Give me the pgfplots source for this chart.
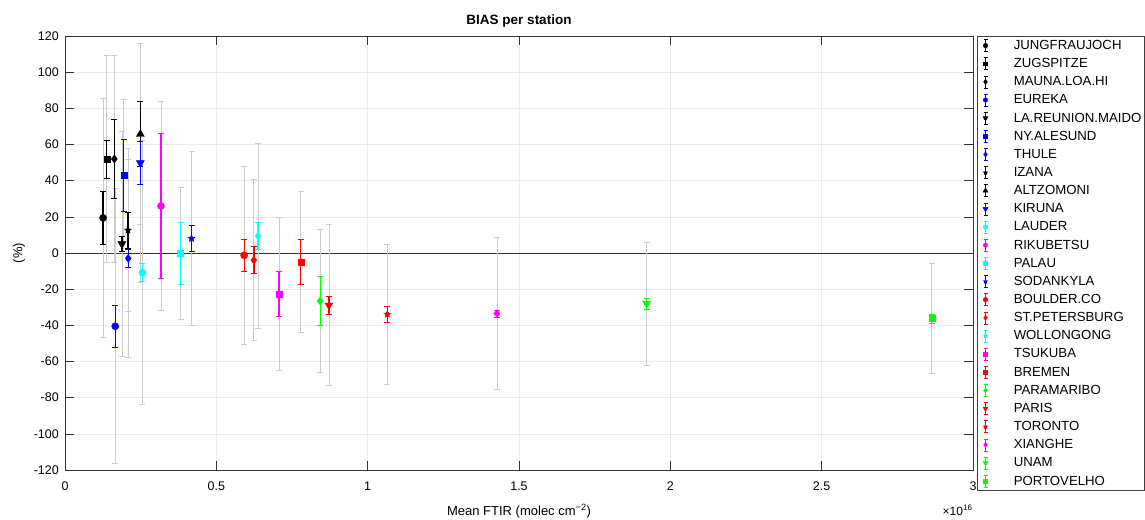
\documentclass[border=0pt]{standalone}
\usepackage{fontspec}
\setmainfont{Liberation Sans}
\usepackage{pgfplots}
\pgfplotsset{compat=1.18}
\usetikzlibrary{plotmarks}

\pgfdeclareplotmark{fstar}{%
  \pgfpathmoveto{\pgfpointpolar{90}{\pgfplotmarksize}}%
  \pgfpathlineto{\pgfpointpolar{126}{0.42\pgfplotmarksize}}%
  \pgfpathlineto{\pgfpointpolar{162}{\pgfplotmarksize}}%
  \pgfpathlineto{\pgfpointpolar{198}{0.42\pgfplotmarksize}}%
  \pgfpathlineto{\pgfpointpolar{234}{\pgfplotmarksize}}%
  \pgfpathlineto{\pgfpointpolar{270}{0.42\pgfplotmarksize}}%
  \pgfpathlineto{\pgfpointpolar{306}{\pgfplotmarksize}}%
  \pgfpathlineto{\pgfpointpolar{342}{0.42\pgfplotmarksize}}%
  \pgfpathlineto{\pgfpointpolar{18}{\pgfplotmarksize}}%
  \pgfpathlineto{\pgfpointpolar{54}{0.42\pgfplotmarksize}}%
  \pgfpathclose\pgfusepathqfillstroke}

\definecolor{outergray}{gray}{0.8}
\definecolor{mcyan}{rgb}{0,1,1}
\definecolor{mgreen}{rgb}{0,1,0}
\definecolor{mmag}{rgb}{1,0,1}

\pgfplotsset{
  st/.style={only marks, color=#1, mark options={fill=#1, draw=#1, solid},
    error bars/y dir=both, error bars/y explicit,
    error bars/error bar style={line width=1.3pt, color=#1},
    error bars/error mark options={rotate=90, color=#1, mark size=3pt, line width=0.8pt}},
}

\begin{document}
\begin{tikzpicture}
\begin{axis}[
  scale only axis, width=908pt, height=434pt,
  xmin=0, xmax=3, ymin=-120, ymax=120,
  xtick={0,0.5,1,1.5,2,2.5,3},
  xticklabels={0,0.5,1,1.5,2,2.5,3},
  ytick={-120,-100,-80,-60,-40,-20,0,20,40,60,80,100,120},
  yticklabels={-120,-100,-80,-60,-40,-20,0,20,40,60,80,100,120},
  tick align=inside, major tick length=9pt,
  grid=major, grid style={color=black!8, line width=0.6pt},
  axis line style={color=black!80, line width=0.6pt},
  tick style={color=black!80, line width=0.6pt},
  ticklabel style={font=\fontsize{12.5}{14}\selectfont},
  xticklabel style={anchor=base, inner sep=0pt, yshift=-20pt},
  yticklabel style={anchor=east, inner sep=0pt, xshift=-6pt},
  title={BIAS per station},
  title style={font=\fontsize{13.5}{16}\selectfont\bfseries, at={([yshift=5pt]rel axis cs:0.5,1)}, anchor=base},
  xlabel={Mean FTIR (molec cm\textsuperscript{−2})},
  xlabel style={font=\fontsize{13}{15}\selectfont, at={([yshift=-45pt]rel axis cs:0.5,0)}, anchor=base},
  ylabel={(\%)},
  ylabel style={font=\fontsize{13}{15}\selectfont, at={([xshift=-46pt]rel axis cs:0,0.5)}, anchor=center, rotate=0},
  legend style={at={(1,1)}, anchor=north west, xshift=4pt, draw=black!75, line width=0.5pt,
    font=\fontsize{13.2}{15}\selectfont, inner xsep=3pt, inner ysep=3pt, row sep=5.55pt, column sep=0pt,
    nodes={inner sep=0pt}},
  legend cell align=left,
  legend image code/.code={
    \draw[#1, mark=none, line width=0.6pt] (0pt,-6pt) -- (0pt,6pt);
    \draw[#1, mark=none, line width=0.6pt] (-2pt,-6pt) -- (2pt,-6pt) (-2pt,6pt) -- (2pt,6pt);
    \draw[#1, every mark/.append style={scale=0.62}] plot coordinates {(0pt,0pt)};
    \path (-5pt,0pt) (28pt,0pt);
  },
]
% zero line
\addplot[forget plot, color=black!80, line width=0.7pt] coordinates {(0,0) (3,0)};
% outer (gray) error bars
\addplot[forget plot, only marks, mark=none, error bars/.cd, y dir=both, y explicit,
  error bar style={line width=0.8pt, color=outergray},
  error mark options={rotate=90, color=outergray, mark size=3pt, line width=0.8pt}] coordinates {
  (0.126,19.4) +- (0,66)
  (0.138,52) +- (0,57)
  (0.163,52) +- (0,57)
  (0.166,-40.5) +- (0,76)
  (0.188,5) +- (0,62)
  (0.194,43) +- (0,42)
  (0.209,-3) +- (0,54.5)
  (0.208,12.6) +- (0,45)
  (0.249,65.7) +- (0,50)
  (0.249,49.8) +- (0,66)
  (0.256,-10.9) +- (0,73)
  (0.317,26) +- (0,58)
  (0.382,-0.3) +- (0,36.5)
  (0.418,8) +- (0,48)
  (0.592,-1.3) +- (0,49)
  (0.624,-4) +- (0,44.5)
  (0.638,9.4) +- (0,51)
  (0.707,-22.8) +- (0,42.3)
  (0.779,-5) +- (0,39)
  (0.843,-26.5) +- (0,39.5)
  (0.872,-28.9) +- (0,44.5)
  (1.065,-33.9) +- (0,38.7)
  (1.427,-33.5) +- (0,42)
  (1.922,-28) +- (0,34)
  (2.864,-36.3) +- (0,30.4)
};
% inner (coloured) error bars and markers
\addplot[st=black, mark=*, mark size=3.6pt] coordinates {(0.126,19.4) +- (0,14.5)};
\addlegendentry{JUNGFRAUJOCH}
\addplot[st=black, mark=square*, mark size=3pt] coordinates {(0.138,52) +- (0,10.5)};
\addlegendentry{ZUGSPITZE}
\addplot[st=black, mark=diamond*, mark size=4pt] coordinates {(0.163,52) +- (0,22)};
\addlegendentry{MAUNA.LOA.HI}
\addplot[st=blue, mark=*, mark size=3.6pt] coordinates {(0.166,-40.5) +- (0,11.5)};
\addlegendentry{EUREKA}
\addplot[st=black, mark=triangle*, mark size=4.6pt, mark options={rotate=180}] coordinates {(0.188,5) +- (0,4)};
\addlegendentry{LA.REUNION.MAIDO}
\addplot[st=blue, mark=square*, mark size=3pt] coordinates {(0.194,43) +- (0,20)};
\addlegendentry{NY.ALESUND}
\addplot[st=blue, mark=diamond*, mark size=4pt] coordinates {(0.209,-3) +- (0,5)};
\addlegendentry{THULE}
\addplot[st=black, mark=fstar, mark size=3.6pt] coordinates {(0.208,12.6) +- (0,10)};
\addlegendentry{IZANA}
\addplot[st=black, mark=triangle*, mark size=4.6pt] coordinates {(0.249,65.7) +- (0,18)};
\addlegendentry{ALTZOMONI}
\addplot[st=blue, mark=triangle*, mark size=4.6pt, mark options={rotate=180}] coordinates {(0.249,49.8) +- (0,11.7)};
\addlegendentry{KIRUNA}
\addplot[st=mcyan, mark=*, mark size=3.6pt] coordinates {(0.256,-10.9) +- (0,5)};
\addlegendentry{LAUDER}
\addplot[st=mmag, mark=*, mark size=3.6pt] coordinates {(0.317,26) +- (0,40)};
\addlegendentry{RIKUBETSU}
\addplot[st=mcyan, mark=square*, mark size=3pt] coordinates {(0.382,-0.3) +- (0,17)};
\addlegendentry{PALAU}
\addplot[st=blue, mark=fstar, mark size=3.6pt] coordinates {(0.418,8) +- (0,7)};
\addlegendentry{SODANKYLA}
\addplot[st=red, mark=*, mark size=3.6pt] coordinates {(0.592,-1.3) +- (0,9)};
\addlegendentry{BOULDER.CO}
\addplot[st=red, mark=diamond*, mark size=4pt] coordinates {(0.624,-4) +- (0,7.5)};
\addlegendentry{ST.PETERSBURG}
\addplot[st=mcyan, mark=diamond*, mark size=4pt] coordinates {(0.638,9.4) +- (0,7.5)};
\addlegendentry{WOLLONGONG}
\addplot[st=mmag, mark=square*, mark size=3pt] coordinates {(0.707,-22.8) +- (0,12.5)};
\addlegendentry{TSUKUBA}
\addplot[st=red, mark=square*, mark size=3pt] coordinates {(0.779,-5) +- (0,12.5)};
\addlegendentry{BREMEN}
\addplot[st=mgreen, mark=diamond*, mark size=4pt] coordinates {(0.843,-26.5) +- (0,13.8)};
\addlegendentry{PARAMARIBO}
\addplot[st=red, mark=triangle*, mark size=4.6pt, mark options={rotate=180}] coordinates {(0.872,-28.9) +- (0,5)};
\addlegendentry{PARIS}
\addplot[st=red, mark=fstar, mark size=3.6pt] coordinates {(1.065,-33.9) +- (0,4.3)};
\addlegendentry{TORONTO}
\addplot[st=mmag, mark=diamond*, mark size=4pt] coordinates {(1.427,-33.5) +- (0,2)};
\addlegendentry{XIANGHE}
\addplot[st=mgreen, mark=triangle*, mark size=4.6pt, mark options={rotate=180}] coordinates {(1.922,-28) +- (0,3)};
\addlegendentry{UNAM}
\addplot[st=mgreen, mark=square*, mark size=3pt] coordinates {(2.864,-36.3) +- (0,2.5)};
\addlegendentry{PORTOVELHO}
\end{axis}
\node[anchor=base east, font=\fontsize{12}{14}\selectfont] at ([xshift=3pt,yshift=-45pt]current axis.south east) {×10\textsuperscript{16}};
\pgfresetboundingbox
\path ([xshift=-65pt,yshift=-49pt]current axis.south west) rectangle ([xshift=172pt,yshift=36pt]current axis.north east);
\end{tikzpicture}
\end{document}
